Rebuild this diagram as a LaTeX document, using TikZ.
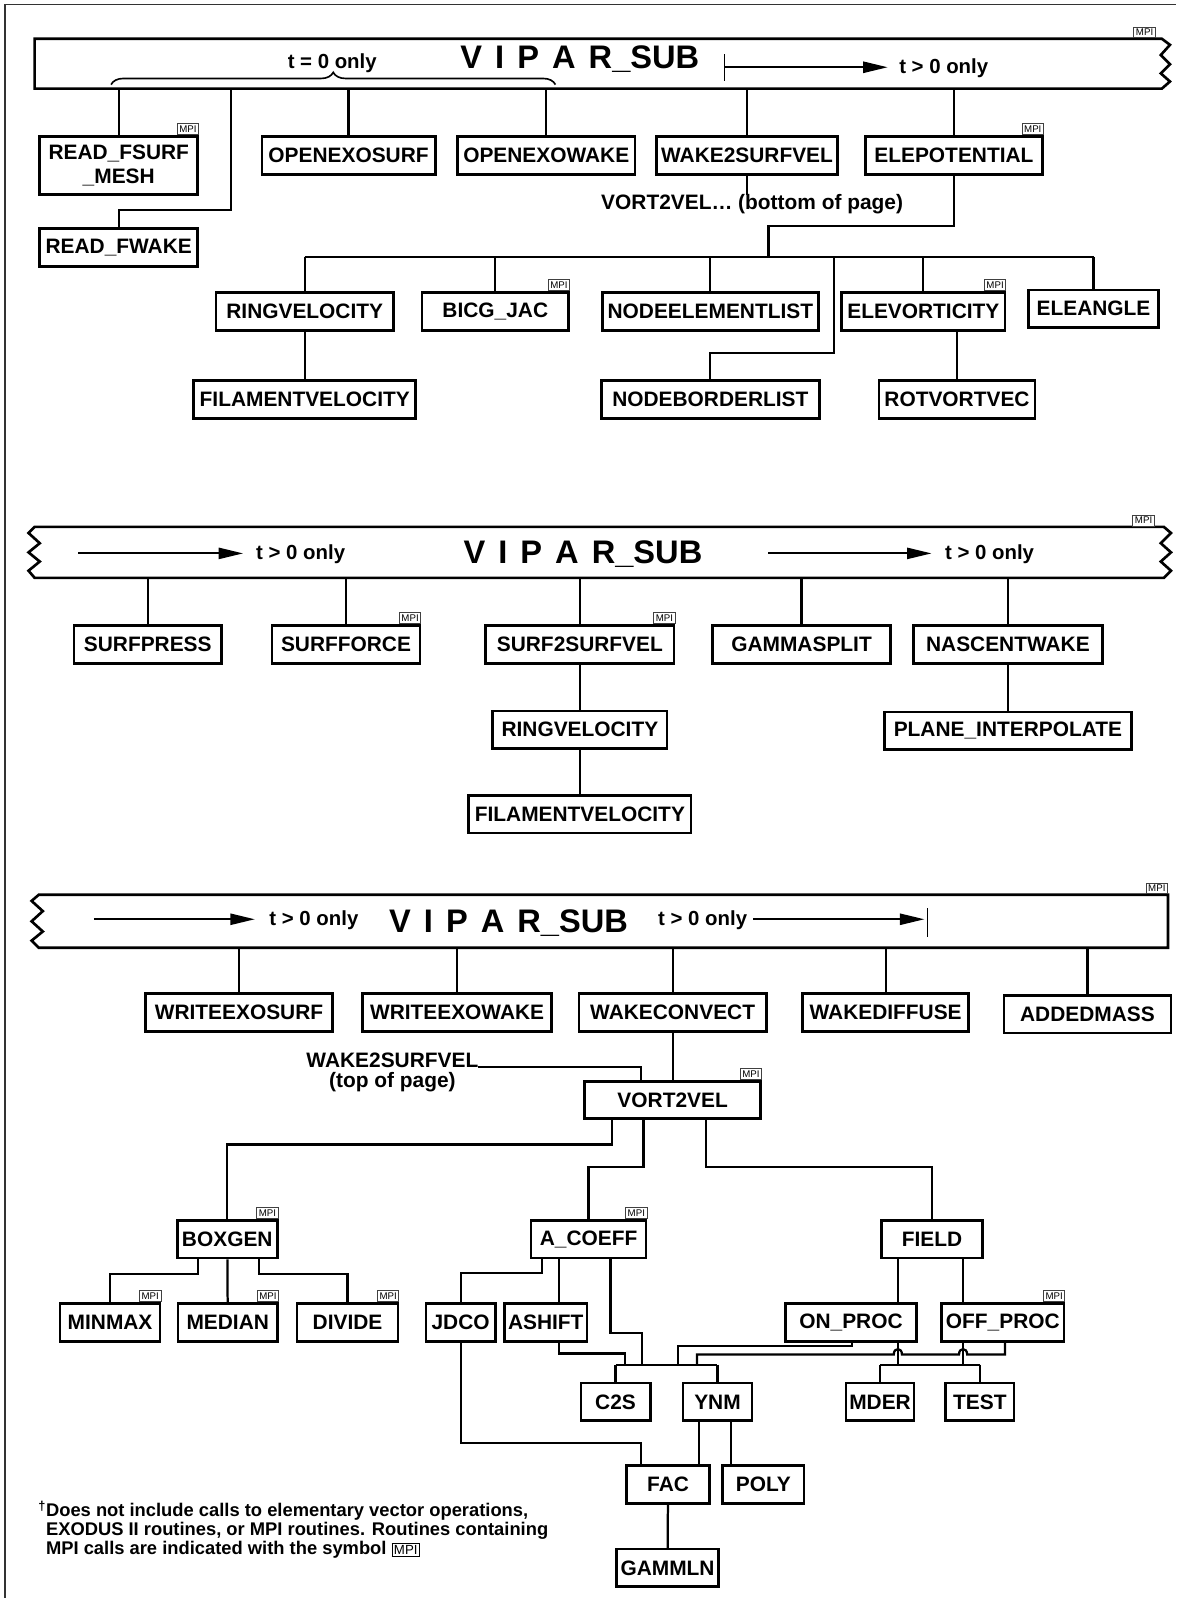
\documentclass[tikz,border=0pt]{standalone}
\usepackage{fontspec}
\setmainfont{Liberation Sans}
\usetikzlibrary{arrows.meta, positioning, calc, decorations.pathreplacing}

\newcommand{\mpion}[1]{\node[mpi, anchor=south east] at ([yshift=0.5pt]#1.north east) {MPI};}
\newcommand{\mpisym}{{\fboxsep=1.5pt\fboxrule=0.8pt\fbox{\fontsize{13}{13}\selectfont\mdseries MPI}}}
\newcommand{\viparsub}{V\hspace{.4em}I\hspace{.4em}P\hspace{.4em}A\hspace{.4em}R\_SUB}

\tikzset{
  box/.style={draw, line width=2.6pt, minimum height=37pt, inner sep=0pt, font=\fontsize{20.5}{24}\selectfont\bfseries},
  wire/.style={line width=2.2pt},
  band/.style={line width=2.6pt, line join=miter},
  mpi/.style={draw=black!75, line width=0.8pt, fill=white, inner sep=0pt, minimum width=21pt, minimum height=10.5pt, font=\fontsize{9.5}{9.5}\selectfont},
  tlab/.style={inner sep=0pt, font=\fontsize{20}{22}\selectfont\bfseries},
  note/.style={inner sep=0pt, font=\fontsize{20.5}{22}\selectfont\bfseries},
  bandtitle/.style={inner sep=0pt, font=\fontsize{32}{34}\selectfont\bfseries},
  foot/.style={inner sep=0pt, anchor=base west, font=\fontsize{18}{19}\selectfont\bfseries},
  flow/.style={line width=1.8pt, -{Triangle[length=24pt,width=11pt]}},
}

\begin{document}
\begin{tikzpicture}[x=1pt, y=-1pt]
\useasboundingbox (0,0) rectangle (1154,1568);
\draw[line width=1.6pt, black!80] (5,1568) -- (5,4.5) -- (1154,4.5);

% ---------- first band ----------
\draw[band] (34,38) -- (1140,38) -- (1148,44) -- (1139,54) -- (1148,63) -- (1139,72) -- (1148,80) -- (1140,87) -- (34,87) -- cycle;
\coordinate (b1) at (0,87);
\node[mpi, anchor=south east] at (1134,37.5) {MPI};
\node[bandtitle, anchor=base] (title1) at (569,67.5) {\viparsub};
\node[tlab, anchor=base] (tzero) at (326,67) {t = 0 only};
\draw[line width=1.6pt, decorate, decoration={brace, amplitude=12pt}] (109,83) -- (545,83);
\draw[flow, {Bar[width=26pt]}-{Triangle[length=24pt,width=11pt]}] (710,66) -- (871,66);
\node[tlab, anchor=base] (tpos1) at (926,72) {t > 0 only};

\node[box, minimum width=155pt, minimum height=57pt, align=center, font=\fontsize{20.5}{24}\selectfont\bfseries] (rfsurf) at (116.5,162.5) {READ\_FSURF\\\_MESH};
\node[box, minimum width=155pt] (rfwake) at (116.5,243) {READ\_FWAKE};
\node[box, minimum width=170pt] (oesurf) at (342,152.5) {OPENEXOSURF};
\node[box, minimum width=174pt] (oewake) at (536,152.5) {OPENEXOWAKE};
\node[box, minimum width=178pt] (w2sv) at (733,152.5) {WAKE2SURFVEL};
\node[box, minimum width=174pt] (elepot) at (936,152.5) {ELEPOTENTIAL};
\mpion{rfsurf} \mpion{elepot}
\node[note, anchor=base] (v2vnote) at (738,206) {VORT2VEL… (bottom of page)};

\foreach \n in {rfsurf,oesurf,oewake,w2sv,elepot} \draw[wire] (b1 -| \n) -- (\n);
\coordinate (rw) at (227,206);
\draw[wire] (b1 -| rw) -- (rw) -| (rfwake);
\draw[wire] (w2sv) -- (w2sv |- v2vnote.north);

\node[box, minimum width=174pt] (ringvel) at (299,305.5) {RINGVELOCITY};
\node[box, minimum width=144pt] (bicg) at (486,305.5) {BICG\_JAC};
\node[box, minimum width=212pt] (nel) at (697,305.5) {NODEELEMENTLIST};
\node[box, minimum width=160pt] (elevort) at (906,305.5) {ELEVORTICITY};
\node[box, minimum width=128pt] (eleangle) at (1073,303) {ELEANGLE};
\node[box, minimum width=218pt] (filvel) at (299,392) {FILAMENTVELOCITY};
\node[box, minimum width=214pt] (nbl) at (697,392) {NODEBORDERLIST};
\node[box, minimum width=153pt] (rotvort) at (939,392) {ROTVORTVEC};
\mpion{bicg} \mpion{elevort}

\coordinate (busB) at (0,252);
\coordinate (eb) at (754,222);
\draw[wire] (elepot) |- (eb) -- (eb |- busB);
\draw[wire] (busB -| ringvel) -- (busB -| eleangle);
\foreach \n in {ringvel,bicg,nel,elevort,eleangle} \draw[wire] (busB -| \n) -- (\n);
\coordinate (nb) at (818,346);
\draw[wire] (busB -| nb) -- (nb) -| (nbl);
\draw[wire] (ringvel) -- (filvel);
\draw[wire] (elevort.south -| rotvort) -- (rotvort);

% ---------- second band ----------
\draw[band] (34,517) -- (1142,517) -- (1149,523) -- (1139,533) -- (1149,542) -- (1139,551) -- (1149,560) -- (1142,567)
  -- (34,567) -- (28,560) -- (39,551) -- (28,542) -- (39,533) -- (28,523) -- cycle;
\coordinate (b2) at (0,567);
\node[mpi, anchor=south east] at (1133,516.5) {MPI};
\node[bandtitle, anchor=base] (title2) at (572,553) {\viparsub};
\draw[flow] (77,543) -- (238.5,543);
\node[tlab, anchor=base] (tpos2) at (295,549) {t > 0 only};
\draw[flow] (754,543) -- (914,543);
\node[tlab, anchor=base] (tpos3) at (971,549) {t > 0 only};

\node[box, minimum width=145pt] (surfpress) at (145,632.5) {SURFPRESS};
\node[box, minimum width=145pt] (surfforce) at (339.5,632.5) {SURFFORCE};
\node[box, minimum width=185pt] (s2sv) at (569,632.5) {SURF2SURFVEL};
\node[box, minimum width=175pt] (gammasplit) at (786.5,632.5) {GAMMASPLIT};
\node[box, minimum width=185pt] (nascent) at (989,632.5) {NASCENTWAKE};
\node[box, minimum width=171pt] (ringvelb) at (569,716) {RINGVELOCITY};
\node[box, minimum width=242pt] (planeint) at (989,717) {PLANE\_INTERPOLATE};
\node[box, minimum width=218pt] (filvelb) at (569,799) {FILAMENTVELOCITY};
\mpion{surfforce} \mpion{s2sv}

\foreach \n in {surfpress,surfforce,s2sv,gammasplit,nascent} \draw[wire] (b2 -| \n) -- (\n);
\draw[wire] (s2sv) -- (ringvelb);
\draw[wire] (ringvelb) -- (filvelb);
\draw[wire] (nascent) -- (planeint);

% ---------- third band ----------
\draw[band] (38,878) -- (1146,878) -- (1146,930) -- (38,930) -- (31,923) -- (42,914) -- (31,904) -- (42,894) -- (31,884) -- cycle;
\coordinate (b3) at (0,930);
\node[mpi, anchor=south east] at (1146,877.5) {MPI};
\draw[flow] (92,902) -- (250,902);
\node[tlab, anchor=base] (tpos4) at (308,908) {t > 0 only};
\node[bandtitle, anchor=base] (title3) at (499,915) {\viparsub};
\node[tlab, anchor=base] (tpos5) at (689.5,908) {t > 0 only};
\draw[flow] (739,902) -- (907,902);
\draw[line width=1.8pt] (910,891) -- (910,919);

\node[box, minimum width=184pt] (wexsurf) at (234.5,993.5) {WRITEEXOSURF};
\node[box, minimum width=185pt] (wexwake) at (448.5,993.5) {WRITEEXOWAKE};
\node[box, minimum width=184pt] (wconv) at (660,993.5) {WAKECONVECT};
\node[box, minimum width=163pt] (wdiff) at (869,993.5) {WAKEDIFFUSE};
\node[box, minimum width=164pt] (added) at (1067,995) {ADDEDMASS};
\foreach \n in {wexsurf,wexwake,wconv,wdiff,added} \draw[wire] (b3 -| \n) -- (\n);

\node[box, minimum width=173pt, minimum height=36pt] (vort2vel) at (660,1079.5) {VORT2VEL};
\mpion{vort2vel}
\draw[wire] (wconv) -- (vort2vel);
\node[note, anchor=base] (w2svlbl) at (385,1047) {WAKE2SURFVEL};
\node[note, anchor=base] (toplbl) at (385,1067) {(top of page)};
\draw[wire] (w2svlbl.base east) -| ([xshift=-31pt]vort2vel.north);

\node[box, minimum width=98pt] (boxgen) at (223,1216) {BOXGEN};
\node[box, minimum width=113pt] (acoeff) at (577.5,1216) {A\_COEFF};
\node[box, minimum width=99pt] (field) at (914.5,1216) {FIELD};
\mpion{boxgen} \mpion{acoeff}

\coordinate (vb) at (0,1123);
\coordinate (vc) at (0,1145);
\draw[wire] ([xshift=-59.5pt]vort2vel.south) |- (vb -| boxgen) -- (boxgen);
\draw[wire] ([xshift=-28.5pt]vort2vel.south) |- (vc -| acoeff) -- (acoeff);
\draw[wire] ([xshift=33pt]vort2vel.south) |- (vc -| field) -- (field);

\node[box, minimum width=98pt] (minmax) at (108,1297.5) {MINMAX};
\node[box, minimum width=98pt] (median) at (223.5,1297.5) {MEDIAN};
\node[box, minimum width=99pt] (divide) at (341,1297.5) {DIVIDE};
\mpion{minmax} \mpion{median} \mpion{divide}
\coordinate (bg) at (0,1250);
\draw[wire] ([xshift=-29pt]boxgen.south) |- (bg -| minmax) -- (minmax);
\draw[wire] (boxgen) -- (median);
\draw[wire] ([xshift=31pt]boxgen.south) |- (bg -| divide) -- (divide);

\node[box, minimum width=68pt] (jdco) at (452,1297.5) {JDCO};
\node[box, minimum width=81pt] (ashift) at (535.5,1297.5) {ASHIFT};
\node[box, minimum width=128pt] (onproc) at (835,1297.5) {ON\_PROC};
\node[box, minimum width=120pt] (offproc) at (984,1297.5) {OFF\_PROC};
\mpion{offproc}

\node[box, minimum width=68pt] (c2s) at (604,1375.5) {C2S};
\node[box, minimum width=68pt] (ynm) at (704,1375.5) {YNM};
\node[box, minimum width=67pt] (mder) at (863.5,1375.5) {MDER};
\node[box, minimum width=67pt] (test) at (961.5,1375.5) {TEST};
\node[box, minimum width=81pt] (fac) at (655.5,1456.5) {FAC};
\node[box, minimum width=80pt] (poly) at (749,1456.5) {POLY};
\node[box, minimum width=100pt] (gammln) at (655,1538.5) {GAMMLN};

\coordinate (ab) at (0,1249);
\coordinate (cy) at (0,1339);
\draw[wire] ([xshift=-46pt]acoeff.south) |- (ab -| jdco) -- (jdco);
\draw[wire] ([xshift=-29pt]acoeff.south) -- ([xshift=-29pt]acoeff.south |- ashift.north);
\coordinate (aa) at (630,1308);
\draw[wire] ([xshift=21.5pt]acoeff.south) |- (aa) -- (aa |- cy);
\coordinate (as) at (613,1328);
\draw[wire] ([xshift=13pt]ashift.south) |- (as) -- (as |- cy);
\draw[wire] (cy -| c2s) -- (cy -| ynm);
\draw[wire] (cy -| c2s) -- (c2s);
\draw[wire] (cy -| ynm) -- (ynm);

\coordinate (fl) at ([xshift=-33.5pt]field.south);
\coordinate (fr) at ([xshift=30.5pt]field.south);
\draw[wire] (fl) -- (fl |- onproc.north);
\draw[wire] (fr) -- (fr |- offproc.north);
\draw[wire] (fl |- onproc.south) -- (fl |- cy);
\draw[wire] (fr |- offproc.south) -- (fr |- cy);
\draw[wire] (cy -| mder) -- (cy -| test);
\draw[wire] (cy -| mder) -- (mder);
\draw[wire] (cy -| test) -- (test);

\coordinate (op) at (665,1321);
\draw[wire] ([xshift=1pt]onproc.south) |- (op) -- (op |- cy);
\coordinate (fq) at (986,1329);
\coordinate (fp) at (684,1329);
\draw[wire] (fq |- offproc.south) -- (fq) -- (949,1329) .. controls (949,1322) and (941,1322) .. (941,1329)
  -- (885,1329) .. controls (885,1322) and (877,1322) .. (877,1329) -- (fp) -- (fp |- cy);

\coordinate (jf) at (0,1416);
\draw[wire] (jdco) |- ([xshift=-26.5pt]fac.north |- jf) -- ([xshift=-26.5pt]fac.north);
\draw[wire] ([xshift=-18pt]ynm.south) -- ([xshift=-18pt]ynm.south |- fac.north);
\draw[wire] ([xshift=13pt]ynm.south) -- ([xshift=13pt]ynm.south |- poly.north);
\draw[wire] (fac) -- (gammln);

\node[foot] (fn1) at (37.5,1488) {\textsuperscript{†}Does not include calls to elementary vector operations,};
\node[foot] (fn2) at (45,1506.5) {EXODUS II routines, or MPI routines. Routines containing};
\node[foot] (fn3) at (45,1525) {MPI calls are indicated with the symbol \mpisym};
\end{tikzpicture}
\end{document}
